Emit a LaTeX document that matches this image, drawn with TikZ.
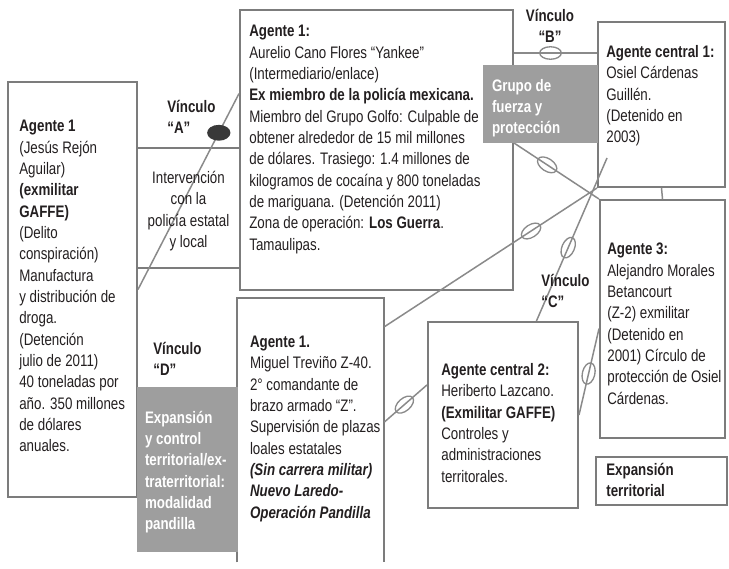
\documentclass[tikz,border=0pt]{standalone}
\usepackage{fontspec}
\setmainfont{Liberation Sans}[FakeStretch=0.8]
\usetikzlibrary{positioning, fit, calc, shapes.geometric}
\definecolor{linegray}{HTML}{8A8A8A}
\definecolor{boxgray}{HTML}{7C7C7C}
\definecolor{fillgray}{HTML}{9E9E9E}
\definecolor{ink}{HTML}{231F20}

\begin{document}
\begin{tikzpicture}[x=0.6pt,y=-0.6pt,
	box/.style={draw=boxgray, line width=1.2pt, inner sep=0pt},
	shade/.style={fill=fillgray, inner sep=0pt},
	txt/.style={align=left, inner sep=0pt, text=ink, font=\fontsize{10}{12.8}\selectfont},
	vinc/.style={txt, font=\fontsize{10}{12.8}\selectfont\bfseries},
	wtxt/.style={txt, text=white, font=\fontsize{10}{12.8}\selectfont\bfseries},
	tie/.style={draw=linegray, line width=0.9pt},
	ring/.style={ellipse, draw=linegray, line width=0.8pt, minimum width=13pt, minimum height=7.5pt, inner sep=0pt, sloped},
	knot/.style={ellipse, fill=gray!45!black, minimum width=14pt, minimum height=9.5pt, inner sep=0pt}]

	\useasboundingbox (0,0) rectangle (729,568);

	% cajas de los agentes
	\node[box, fit={(8,82) (137,497)}] (rejon) {};
	\node[box, fit={(137,148) (240,268)}] (interv) {};
	\node[box, fit={(240,10) (513,290)}] (cano) {};
	\node[box, fit={(598,22) (725,187)}] (osiel) {};
	\node[box, fit={(600,200) (725,438)}] (morales) {};
	\node[box, fit={(428,322) (578,508)}] (lazcano) {};
	\node[inner sep=0pt, fit={(237,298) (384,562)}] (trevino) {};
	\draw[box] (trevino.south west) |- (trevino.north east) -- (trevino.south east);
	\node[box, fit={(596,457) (727,505)}] (expterr) {};

	% vinculos
	\coordinate (bY) at (550,53);
	\coordinate (cTop) at ($(osiel.south west)+(10,-30)$);
	\path[tie] ($(cano.north west)!0.3!(cano.south west)$) -- node[knot, pos=0.2] (kA) {} (rejon.east);
	\path[tie] (cano.east |- bY) -- node[ring, pos=0.44] (rB) {} (osiel.west |- bY);
	\path[tie] (cano.east |- 0,143) -- node[ring, pos=0.39] (rG) {} (morales.north west);
	\path[tie] ($(trevino.north east)!0.11!(trevino.south east)$) -- node[ring, pos=0.69] (rT) {} (osiel.south west);
	\path[tie] (cTop) -- node[ring, pos=0.55] (rC) {} ($(lazcano.north west)!0.72!(lazcano.north east)$);
	\path[tie] ($(morales.north west)!0.54!(morales.south west)$) -- node[ring, pos=0.52] (rM) {} (lazcano.east);
	\path[tie] ($(trevino.north east)!0.47!(trevino.south east)$) -- node[ring, pos=0.47] (rL) {} ($(lazcano.north west)!0.34!(lazcano.south west)$);
	\path[tie] (osiel.south) -- (morales.north);

	% cajas grises
	\node[shade, fit={(483,65) (598,143)}] (grupo) {};
	\node[shade, fit={(137,387) (238,552)}] (expansion) {};

	% textos
	\node[txt, anchor=north west] (rejonT) at ($(rejon.north west)+(12,39)$) {\textbf{Agente 1}\\(Jesús Rejón\\Aguilar)\\\textbf{(exmilitar}\\\textbf{GAFFE)}\\(Delito\\conspiración)\\Manufactura\\y distribución de\\droga.\\(Detención\\julio de 2011)\\40 toneladas por\\año. 350 millones\\de dólares\\anuales.};
	\node[txt, align=center] (intervT) at ($(interv.center)+(0,3)$) {Intervención\\con la\\policía estatal\\y local};
	\node[txt, anchor=north west] (canoT) at ($(cano.north west)+(10,16)$) {\textbf{Agente 1:}\\Aurelio Cano Flores “Yankee”\\(Intermediario/enlace)\\\textbf{Ex miembro de la policía mexicana.}\\Miembro del Grupo Golfo: Culpable de\\obtener alrededor de 15 mil millones\\de dólares. Trasiego: 1.4 millones de\\kilogramos de cocaína y 800 toneladas\\de mariguana. (Detención 2011)\\Zona de operación: \textbf{Los Guerra}.\\Tamaulipas.};
	\node[wtxt, anchor=north west] (grupoT) at ($(grupo.north west)+(9,14)$) {Grupo de\\fuerza y\\protección};
	\node[txt, anchor=north west] (osielT) at ($(osiel.north west)+(9,24)$) {\textbf{Agente central 1:}\\Osiel Cárdenas\\Guillén.\\(Detenido en\\2003)};
	\node[txt, anchor=north west] (moralesT) at ($(morales.north west)+(8,44)$) {\textbf{Agente 3:}\\Alejandro Morales\\Betancourt\\(Z-2) exmilitar\\(Detenido en\\2001) Círculo de\\protección de Osiel\\Cárdenas.};
	\node[txt, anchor=north west] (lazcanoT) at ($(lazcano.north west)+(14,42)$) {\textbf{Agente central 2:}\\Heriberto Lazcano.\\\textbf{(Exmilitar GAFFE)}\\Controles y\\administraciones\\territorales.};
	\node[txt, anchor=north west] (trevinoT) at ($(trevino.north west)+(13,38)$) {\textbf{Agente 1.}\\Miguel Treviño Z-40.\\2° comandante de\\brazo armado “Z”.\\Supervisión de plazas\\loales estatales\\\textbf{\textit{(Sin carrera militar)}}\\\textbf{\textit{Nuevo Laredo-}}\\\textbf{\textit{Operación Pandilla}}};
	\node[wtxt, anchor=north west] (expansionT) at ($(expansion.north west)+(8,24)$) {Expansión\\y control\\territorial/ex-\\traterritorial:\\modalidad\\pandilla};
	\node[vinc, anchor=north west] (expterrT) at ($(expterr.north west)+(11,7)$) {Expansión\\territorial};

	\node[vinc, anchor=north west] (vA) at (167,100) {Vínculo\\“A”};
	\node[vinc, anchor=north, align=center] (vB) at (550,9) {Vínculo\\“B”};
	\node[vinc, anchor=north west] (vC) at (541,274) {Vínculo\\“C”};
	\node[vinc, anchor=north west] (vD) at (153,342) {Vínculo\\“D”};
\end{tikzpicture}
\end{document}
